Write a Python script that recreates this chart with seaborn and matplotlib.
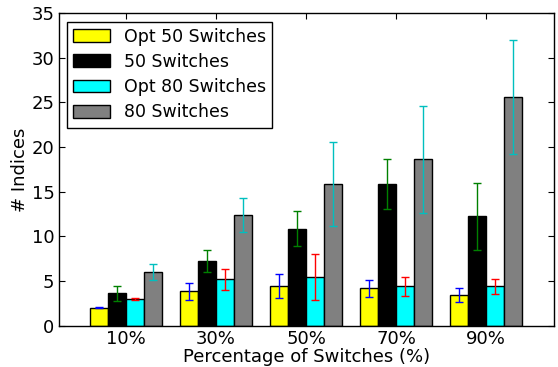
import matplotlib
matplotlib.use("Agg")
import matplotlib.pyplot as plt
import numpy as np
import pandas as pd
import seaborn as sns

categories = ["10%", "30%", "50%", "70%", "90%"]
series = ["Opt 50 Switches", "50 Switches", "Opt 80 Switches", "80 Switches"]

opt50 = [2.05, 3.85, 4.45, 4.2, 3.45]
opt50_err = [0.08, 1.0, 1.35, 0.97, 0.78]
sw50 = [3.65, 7.25, 10.85, 15.85, 12.25]
sw50_err = [0.85, 1.2, 1.95, 2.78, 3.75]
opt80 = [3.0, 5.2, 5.45, 4.42, 4.42]
opt80_err = [0.08, 1.2, 2.6, 1.03, 0.8]
sw80 = [6.0, 12.4, 15.85, 18.65, 25.6]
sw80_err = [0.92, 1.87, 4.68, 5.98, 6.38]

bar_colors = ["yellow", "black", "cyan", "0.5"]
err_colors = ["b", "g", "r", "c"]

values = [opt50, sw50, opt80, sw80]
errors = [opt50_err, sw50_err, opt80_err, sw80_err]

df = pd.DataFrame({
    "pct": np.tile(categories, len(series)),
    "series": np.repeat(series, len(categories)),
    "value": np.concatenate(values),
})

sns.set_style("ticks")
plt.rcParams["font.family"] = ["DejaVu Sans"]
plt.rcParams.update({
    "text.color": "black",
    "axes.labelcolor": "black",
    "xtick.color": "black",
    "ytick.color": "black",
    "axes.edgecolor": "black",
})

fig = plt.figure(figsize=(5.58, 3.67), dpi=100)
ax = fig.add_axes([0.105, 0.112, 0.887, 0.853])

sns.barplot(data=df, x="pct", y="value", hue="series", order=categories,
            hue_order=series, palette=bar_colors, edgecolor="black",
            linewidth=1.0, width=0.8, errorbar=None, saturation=1, ax=ax)

for cont, err, ec in zip(ax.containers, errors, err_colors):
    xs = [p.get_x() + p.get_width() / 2 for p in cont.patches]
    ys = [p.get_height() for p in cont.patches]
    ax.errorbar(xs, ys, yerr=err, fmt="none", ecolor=ec, elinewidth=1.0,
                capsize=3, capthick=1.0, zorder=5)

ax.set_xlim(-0.75, 4.75)
ax.set_ylim(0, 35)
ax.set_yticks(range(0, 36, 5))
ax.set_xlabel("Percentage of Switches (%)", fontsize=13, labelpad=0)
ax.set_ylabel("# Indices", fontsize=13, labelpad=2)
ax.tick_params(direction="in", top=True, right=True, length=4, width=0.8,
               labelsize=13, pad=3)
for s in ax.spines.values():
    s.set_visible(True)
    s.set_linewidth(1.0)
    s.set_color("black")

leg = ax.legend(loc="upper left", fontsize=12.5, frameon=True, fancybox=False,
                framealpha=1, edgecolor="black", handlelength=2.1,
                handleheight=0.75, borderaxespad=0.5, labelspacing=0.42,
                borderpad=0.35)
leg.get_frame().set_linewidth(1.0)

fig.savefig("out.png", dpi=100)
